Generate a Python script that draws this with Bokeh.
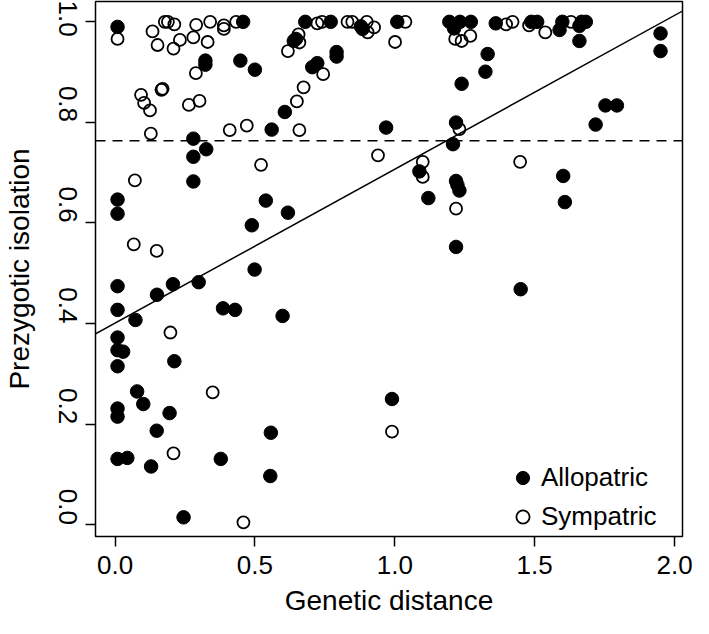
import math
from bokeh.plotting import figure
from bokeh.models import Range1d, Slope, Span, Legend, LegendItem, FixedTicker
from bokeh.embed import file_html
from bokeh.resources import INLINE

# Allopatric (filled) points: genetic distance, prezygotic isolation
allo_x = [0.009, 0.009, 0.009, 0.009, 0.009, 0.009, 0.009, 0.029, 0.009, 0.009, 0.009, 0.009, 0.044,
          0.073, 0.079, 0.101, 0.129, 0.149, 0.150, 0.195, 0.207, 0.212, 0.245, 0.280, 0.280, 0.280,
          0.299, 0.323, 0.323, 0.326, 0.378, 0.386, 0.429, 0.448, 0.458, 0.489, 0.499, 0.500, 0.539,
          0.555, 0.557, 0.560, 0.599, 0.607, 0.618, 0.639, 0.647, 0.680, 0.705, 0.723, 0.771, 0.792,
          0.792, 0.879, 0.885, 0.969, 0.990, 1.009, 1.088, 1.120, 1.195, 1.208, 1.212, 1.219, 1.219,
          1.224, 1.231, 1.219, 1.233, 1.239, 1.272, 1.324, 1.332, 1.361, 1.450, 1.488, 1.509, 1.589,
          1.599, 1.602, 1.608, 1.660, 1.668, 1.683, 1.660, 1.718, 1.753, 1.794, 1.950, 1.950]
allo_y = [0.989, 0.646, 0.618, 0.474, 0.427, 0.372, 0.347, 0.344, 0.315, 0.231, 0.215, 0.131, 0.133,
          0.407, 0.265, 0.240, 0.116, 0.187, 0.457, 0.222, 0.478, 0.325, 0.015, 0.767, 0.731, 0.682,
          0.482, 0.922, 0.914, 0.746, 0.131, 0.430, 0.427, 0.922, 0.999, 0.595, 0.507, 0.904, 0.644,
          0.097, 0.183, 0.785, 0.415, 0.820, 0.620, 0.961, 0.965, 0.999, 0.909, 0.917, 0.999, 0.939,
          0.930, 0.990, 0.985, 0.789, 0.250, 0.999, 0.702, 0.649, 0.999, 0.756, 0.986, 0.799, 0.683,
          0.675, 0.664, 0.552, 0.999, 0.876, 0.999, 0.900, 0.935, 0.996, 0.468, 0.999, 0.999, 0.983,
          0.999, 0.693, 0.641, 0.991, 0.999, 0.999, 0.961, 0.795, 0.833, 0.833, 0.976, 0.941]

# Sympatric (open) points
symp_x = [0.009, 0.067, 0.071, 0.093, 0.104, 0.125, 0.128, 0.134, 0.149, 0.152, 0.166, 0.170, 0.178,
          0.189, 0.198, 0.209, 0.209, 0.212, 0.232, 0.264, 0.280, 0.289, 0.290, 0.302, 0.331, 0.340,
          0.349, 0.389, 0.389, 0.410, 0.433, 0.459, 0.471, 0.522, 0.618, 0.650, 0.656, 0.659, 0.659,
          0.674, 0.723, 0.740, 0.744, 0.831, 0.848, 0.900, 0.903, 0.926, 0.940, 0.990, 1.001, 1.038,
          1.100, 1.100, 1.216, 1.219, 1.231, 1.239, 1.270, 1.398, 1.421, 1.448, 1.480, 1.538, 1.630]
symp_y = [0.965, 0.557, 0.684, 0.854, 0.838, 0.823, 0.777, 0.980, 0.544, 0.953, 0.864, 0.866, 0.999,
          0.999, 0.382, 0.142, 0.946, 0.994, 0.963, 0.834, 0.968, 0.897, 0.993, 0.842, 0.959, 0.999,
          0.263, 0.992, 0.985, 0.784, 0.999, 0.005, 0.793, 0.715, 0.941, 0.841, 0.974, 0.958, 0.784,
          0.869, 0.996, 0.999, 0.895, 0.999, 0.999, 0.999, 0.978, 0.988, 0.734, 0.185, 0.959, 0.999,
          0.721, 0.691, 0.965, 0.628, 0.786, 0.961, 0.971, 0.994, 0.999, 0.721, 0.992, 0.978, 0.999]

# Regression line and threshold
fit_slope = 0.3055
fit_intercept = 0.4008
threshold = 0.763

x_ticks = [0.0, 0.5, 1.0, 1.5, 2.0]
y_ticks = [0.0, 0.2, 0.4, 0.6, 0.8, 1.0]

FONT = "Liberation Sans"

p = figure(width=693, height=618, output_backend="svg", toolbar_location=None,
           x_range=Range1d(-0.0698, 2.0285), y_range=Range1d(-0.0231, 1.0394),
           min_border_left=93, min_border_right=11, min_border_top=1, min_border_bottom=80)
p.grid.visible = False
p.background_fill_color = "white"
p.border_fill_color = "white"
p.outline_line_color = "black"
p.outline_line_width = 1.5

for ax in (p.xaxis[0], p.yaxis[0]):
    ax.axis_line_color = None
    ax.major_tick_in = 0
    ax.major_tick_out = 10
    ax.major_tick_line_color = "black"
    ax.major_tick_line_width = 1.5
    ax.minor_tick_line_color = None
    ax.major_label_text_font = FONT
    ax.major_label_text_font_size = "26px"
    ax.major_label_text_color = "black"
    ax.axis_label_text_font = FONT
    ax.axis_label_text_font_size = "28px"
    ax.axis_label_text_font_style = "normal"
    ax.axis_label_text_color = "black"

p.xaxis.ticker = FixedTicker(ticks=x_ticks)
p.yaxis.ticker = FixedTicker(ticks=y_ticks)
p.xaxis.major_label_overrides = {t: f"{t:.1f}" for t in x_ticks}
p.yaxis.major_label_overrides = {t: f"{t:.1f}" for t in y_ticks}
p.yaxis.major_label_orientation = -math.pi / 2
p.xaxis.axis_label = "Genetic distance"
p.yaxis.axis_label = "Prezygotic isolation"
p.xaxis.major_label_standoff = 9
p.xaxis.axis_label_standoff = 8
p.yaxis.major_label_standoff = 18
p.yaxis.axis_label_standoff = 12

p.add_layout(Span(location=threshold, dimension="width", line_color="black",
                  line_width=1.5, line_dash="10 7"))
p.add_layout(Slope(gradient=fit_slope, y_intercept=fit_intercept,
                   line_color="black", line_width=1.5))

r_allo = p.scatter(allo_x, allo_y, marker="circle", size=13.5, fill_color="black",
                   line_color="black", line_width=1)
r_symp = p.scatter(symp_x, symp_y, marker="circle", size=12, fill_color=None,
                   line_color="black", line_width=1.8)

legend = Legend(items=[LegendItem(label="Allopatric", renderers=[r_allo]),
                       LegendItem(label="Sympatric", renderers=[r_symp])],
                location=(411, 3), orientation="vertical",
                glyph_width=33, glyph_height=33, spacing=6, padding=0, margin=0,
                label_standoff=2, label_text_font=FONT, label_text_font_size="26px",
                label_text_color="black", border_line_color=None,
                background_fill_alpha=0)
p.add_layout(legend)

open("out.html", "w").write(file_html(p, INLINE))
